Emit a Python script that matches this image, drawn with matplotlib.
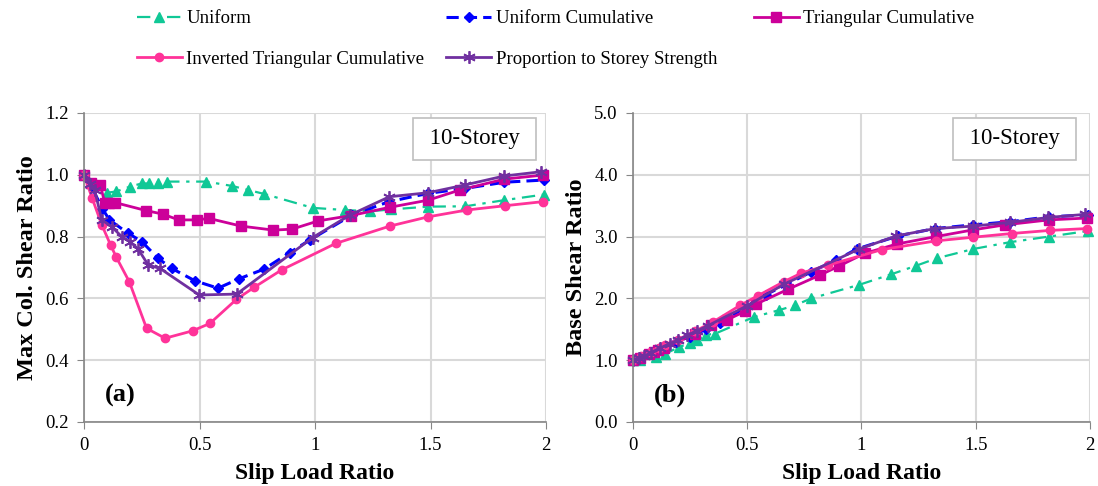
import matplotlib
matplotlib.use("Agg")
from matplotlib import pyplot as plt

plt.rcParams['font.family'] = ['Liberation Serif', 'DejaVu Serif']

# slip load ratios for each load pattern
x_uni = [0, 0.03, 0.1, 0.14, 0.2, 0.25, 0.28, 0.32, 0.36, 0.53, 0.64, 0.71, 0.78,
         0.99, 1.13, 1.24, 1.33, 1.49, 1.65, 1.82, 1.99]
x_ucum = [0, 0.03, 0.08, 0.11, 0.19, 0.25, 0.32, 0.38, 0.48, 0.58, 0.67, 0.78, 0.89,
          0.98, 1.16, 1.32, 1.49, 1.65, 1.82, 1.99]
x_tri = [0, 0.03, 0.07, 0.09, 0.11, 0.135, 0.27, 0.34, 0.41, 0.49, 0.54, 0.68, 0.82,
         0.90, 1.015, 1.155, 1.325, 1.49, 1.628, 1.82, 1.985]
x_inv = [0, 0.035, 0.077, 0.115, 0.14, 0.196, 0.271, 0.351, 0.47, 0.545, 0.66, 0.737,
         0.855, 1.09, 1.324, 1.49, 1.657, 1.824, 1.985]
x_prop = [0, 0.026, 0.046, 0.077, 0.12, 0.163, 0.199, 0.235, 0.278, 0.329, 0.499,
          0.661, 0.99, 1.152, 1.322, 1.49, 1.649, 1.818, 1.98]

# (a) max column shear ratio
col_uni = [1.0, 0.975, 0.942, 0.946, 0.962, 0.972, 0.972, 0.974, 0.978, 0.978, 0.964,
           0.951, 0.938, 0.893, 0.886, 0.882, 0.888, 0.897, 0.898, 0.918, 0.936]
col_ucum = [1.0, 0.965, 0.89, 0.854, 0.811, 0.784, 0.73, 0.697, 0.657, 0.633, 0.663,
            0.695, 0.748, 0.79, 0.87, 0.913, 0.94, 0.956, 0.976, 0.983]
col_tri = [1.0, 0.972, 0.967, 0.91, 0.908, 0.91, 0.884, 0.873, 0.854, 0.854, 0.859,
           0.834, 0.821, 0.824, 0.851, 0.868, 0.895, 0.918, 0.951, 0.986, 0.999]
col_inv = [1.0, 0.925, 0.838, 0.773, 0.733, 0.654, 0.503, 0.471, 0.495, 0.519, 0.597,
           0.636, 0.692, 0.778, 0.834, 0.864, 0.886, 0.9, 0.913]
col_prop = [1.0, 0.97, 0.951, 0.854, 0.832, 0.8, 0.784, 0.759, 0.708, 0.697, 0.611,
            0.614, 0.797, 0.870, 0.929, 0.942, 0.967, 0.996, 1.01]

# (b) base shear ratio
base_uni = [1.0, 1.0, 1.05, 1.1, 1.21, 1.28, 1.32, 1.41, 1.43, 1.70, 1.81, 1.89, 2.0,
            2.22, 2.39, 2.53, 2.65, 2.80, 2.91, 3.0, 3.09]
base_ucum = [1.0, 1.04, 1.12, 1.18, 1.3, 1.38, 1.5, 1.6, 1.83, 2.06, 2.22, 2.43, 2.62,
             2.80, 3.01, 3.13, 3.19, 3.24, 3.32, 3.35]
base_tri = [1.0, 1.03, 1.1, 1.13, 1.16, 1.2, 1.42, 1.57, 1.65, 1.79, 1.91, 2.15, 2.38,
            2.52, 2.73, 2.88, 3.0, 3.11, 3.19, 3.27, 3.30]
base_inv = [1.0, 1.06, 1.13, 1.2, 1.25, 1.33, 1.47, 1.62, 1.89, 2.04, 2.27, 2.41, 2.54,
            2.79, 2.93, 2.99, 3.05, 3.10, 3.13]
base_prop = [1.0, 1.03, 1.06, 1.12, 1.2, 1.27, 1.33, 1.4, 1.47, 1.56, 1.88, 2.23, 2.80,
             3.01, 3.13, 3.17, 3.23, 3.31, 3.36]

labels = ['Uniform', 'Uniform Cumulative', 'Triangular Cumulative',
          'Inverted Triangular Cumulative', 'Proportion to Storey Strength']

styles = [
    dict(color='#10C896', ls=(0, (6, 3, 1.5, 3)), lw=1.6, marker='^', ms=7),
    dict(color='#0000FF', ls=(0, (4, 2)), lw=2.2, marker='D', ms=5),
    dict(color='#CC0099', ls='-', lw=2.0, marker='s', ms=7),
    dict(color='#FF3399', ls='-', lw=2.0, marker='o', ms=6),
    dict(color='#7030A0', ls='-', lw=2.0, marker=(6, 2, 0), ms=9, mew=1.3),
]

xs = [x_uni, x_ucum, x_tri, x_inv, x_prop]
cols = [col_uni, col_ucum, col_tri, col_inv, col_prop]
bases = [base_uni, base_ucum, base_tri, base_inv, base_prop]

fig = plt.figure(figsize=(10.98, 4.86), dpi=100)
ax1 = fig.add_axes([0.0765, 0.1317, 0.4208, 0.6358])
ax2 = fig.add_axes([0.5765, 0.1317, 0.4162, 0.6358])


def style_axes(ax, ylim, yticks, ylabel, tag, box_x):
    ax.set_xlim(0, 2)
    ax.set_ylim(*ylim)
    ax.set_xticks([0, 0.5, 1, 1.5, 2])
    ax.set_xticklabels(['0', '0.5', '1', '1.5', '2'])
    ax.set_yticks(yticks)
    ax.set_yticklabels(['%.1f' % v for v in yticks])
    ax.grid(True, color='#D9D9D9', lw=1.5)
    ax.set_axisbelow(True)
    for s in ['top', 'right']:
        ax.spines[s].set_visible(False)
    for s in ['left', 'bottom']:
        ax.spines[s].set_color('#868686')
        ax.spines[s].set_linewidth(1.2)
    ax.tick_params(direction='out', length=5, color='#868686', labelsize=13.5, pad=6)
    ax.set_xlabel('Slip Load Ratio', fontsize=17, fontweight='bold', labelpad=6)
    ax.set_ylabel(ylabel, fontsize=17.5, fontweight='bold', labelpad=5)
    ax.text(0.045, 0.065, tag, transform=ax.transAxes, fontsize=19, fontweight='bold')
    ax.text(box_x, 0.916, ' 10-Storey ', transform=ax.transAxes, fontsize=16.5,
            ha='center', va='center',
            bbox=dict(boxstyle='square,pad=0.45', fc='white', ec='#BFBFBF', lw=1.2))


handles = []
for x, yc, yb, st, lab in zip(xs, cols, bases, styles, labels):
    h, = ax1.plot(x, yc, label=lab, clip_on=False, **st)
    ax2.plot(x, yb, clip_on=False, **st)
    handles.append(h)

style_axes(ax1, (0.2, 1.2), [0.2, 0.4, 0.6, 0.8, 1.0, 1.2],
           'Max Col. Shear Ratio', '(a)', 0.845)
style_axes(ax2, (0.0, 5.0), [0, 1, 2, 3, 4, 5], 'Base Shear Ratio', '(b)', 0.835)

# legend laid out as three columns across the top
columns = [([0, 3], 0.115), ([1, 4], 0.397), ([2], 0.677)]
for idx, xpos in columns:
    fig.legend([handles[i] for i in idx], [labels[i] for i in idx],
               loc='upper left', bbox_to_anchor=(xpos, 1.0), frameon=False,
               fontsize=13.5, handlelength=2.4, handletextpad=0.25,
               labelspacing=1.25, borderaxespad=0.15)

fig.savefig('out.png', dpi=100)
